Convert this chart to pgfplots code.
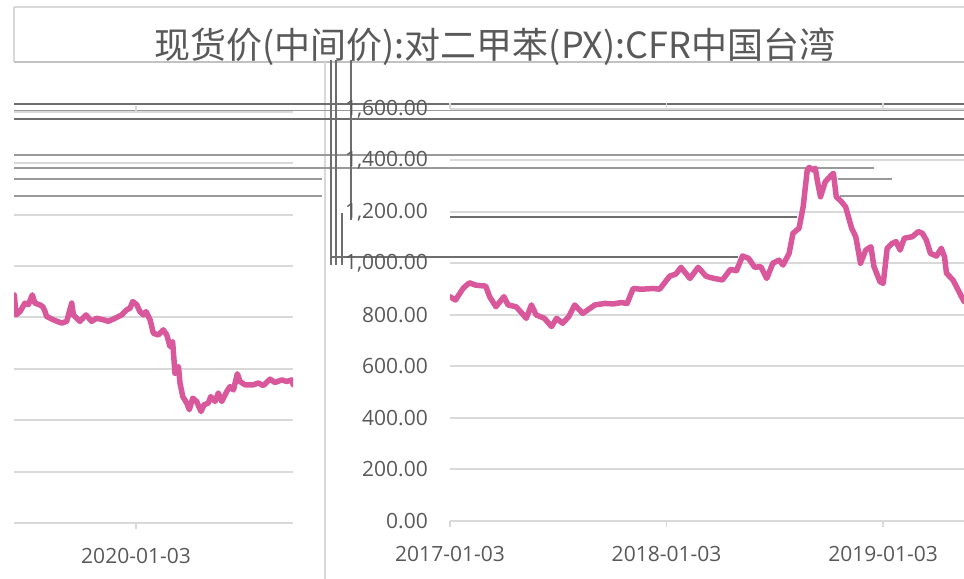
\documentclass[border=0pt]{standalone}
\usepackage{pgfplots}
\pgfplotsset{compat=1.18}
\usepackage{fontspec}
\setmainfont{Open Sans}
\newfontfamily\cjk{Noto Sans CJK SC}
\definecolor{gridgray}{HTML}{D9D9D9}
\definecolor{txt}{HTML}{595959}
\definecolor{pxpink}{HTML}{D9579B}
\definecolor{gdark}{HTML}{6E6E6E}
\definecolor{gmid}{HTML}{9A9A9A}

\pgfplotstableread{
t v
0.000 871
0.025 858
0.062 905
0.090 925
0.118 916
0.165 912
0.183 871
0.212 832
0.249 871
0.268 839
0.305 832
0.333 806
0.352 787
0.376 839
0.398 800
0.436 787
0.469 755
0.492 787
0.520 768
0.548 793
0.576 839
0.613 806
0.669 839
0.716 845
0.753 843
0.790 848
0.818 845
0.846 903
0.884 900
0.940 903
0.968 900
1.015 951
1.043 959
1.067 985
1.108 942
1.146 985
1.183 950
1.220 942
1.258 936
1.295 977
1.323 972
1.351 1029
1.379 1020
1.407 985
1.435 988
1.463 942
1.491 1001
1.519 1013
1.538 994
1.566 1039
1.584 1117
1.612 1137
1.631 1220
1.650 1363
1.659 1373
1.678 1363
1.687 1370
1.696 1324
1.711 1259
1.733 1317
1.761 1343
1.771 1350
1.784 1259
1.808 1240
1.827 1220
1.855 1137
1.874 1104
1.896 1001
1.920 1052
1.944 1065
1.958 988
1.986 929
2.001 923
2.019 1059
2.042 1078
2.060 1085
2.079 1052
2.098 1098
2.135 1104
2.163 1124
2.182 1117
2.200 1091
2.219 1039
2.247 1029
2.269 1059
2.284 1026
2.293 962
2.323 936
2.347 897
2.374 852
}\rightdata

\pgfplotstableread{
t v
2.438 888
2.446 810
2.464 823
2.487 856
2.503 850
2.521 888
2.533 856
2.553 850
2.569 843
2.580 823
2.587 804
2.618 791
2.657 778
2.680 785
2.703 856
2.711 810
2.741 785
2.769 810
2.795 785
2.818 797
2.849 791
2.872 785
2.903 797
2.934 810
2.957 830
2.972 836
2.985 862
3.003 850
3.018 823
3.034 810
3.046 823
3.065 791
3.080 739
3.103 732
3.126 752
3.142 732
3.157 687
3.169 706
3.180 583
3.196 609
3.203 545
3.216 492
3.234 467
3.246 441
3.262 486
3.280 473
3.300 434
3.314 460
3.334 467
3.345 492
3.365 473
3.380 506
3.396 473
3.419 512
3.434 531
3.450 518
3.468 581
3.480 551
3.503 538
3.542 538
3.565 545
3.588 535
3.619 560
3.642 547
3.673 557
3.696 551
3.719 557
3.726 538
}\leftdata

\begin{document}
\begin{tikzpicture}[x=1bp,y=1bp]
\useasboundingbox (0,0) rectangle (964,579);
\clip (0,0) rectangle (964,579);
\pgfplotsset{
  pxbase/.style={
    scale only axis,
    ymin=0, ymax=1600,
    ytick={0,200,...,1600},
    ymajorgrids,
    grid style={draw=gridgray, line width=2bp},
    axis line style={draw=none},
    tick align=outside,
    major tick length=6bp,
    xtick style={draw=gridgray, line width=1.5bp},
    ytick style={draw=none},
    tick label style={font=\fontsize{21bp}{24bp}\selectfont, text=txt},
    /pgf/number format/assume math mode=true,
    yticklabel style={inner sep=0pt, xshift=-16bp,
      /pgf/number format/fixed, /pgf/number format/fixed zerofill,
      /pgf/number format/precision=2, /pgf/number format/1000 sep={,}},
    xticklabel style={inner sep=0pt, yshift=-19bp},
    clip=true,
  }
}
% border and glitch lines of the screenshot
\draw[gridgray, line width=2] (14,572) -- (964,572);
\draw[gridgray, line width=2] (14,572) -- (14,517);
\draw[gmid!60, line width=1.5] (14,517) -- (964,517);
\draw[gridgray, line width=2] (325,0) -- (325,517);
\draw[gdark, line width=2.5] (14,475) -- (964,475);
\draw[gmid, line width=1] (14,468.5) -- (964,468.5);
\draw[gdark, line width=2] (14,460.2) -- (964,460.2);
\draw[gmid, line width=1.2] (14,424) -- (964,424);
\draw[gmid, line width=1.2] (14,411) -- (874,411);
\draw[gmid, line width=1.2] (14,400) -- (322,400);
\draw[gmid, line width=1.2] (838,400) -- (892,400);
\draw[gmid, line width=1.2] (14,383) -- (322,383);
\draw[gmid, line width=1.2] (840,383) -- (964,383);
\draw[gdark, line width=1.2] (450,362) -- (797,362);
\draw[gdark, line width=1.2] (330,322) -- (738,322);
\draw[gdark, line width=1.5] (331,519) -- (331,314);
\draw[gdark, line width=1.5] (336,519) -- (336,314);
\draw[gdark, line width=1.5] (342,366) -- (342,314);
\draw[gdark, line width=1.5] (351,519) -- (351,359);

\begin{axis}[pxbase, at={(450bp,58bp)}, anchor=south west,
  width=514bp, height=412bp, xmin=0, xmax=2.374,
  xtick={0,1,2}, xticklabels={2017-01-03,2018-01-03,2019-01-03}]
\addplot[pxpink, line width=5.5bp, line join=round, line cap=round] table[x=t,y=v] {\rightdata};
\end{axis}

\begin{axis}[pxbase, at={(14bp,56bp)}, anchor=south west,
  width=279bp, height=411bp, xmin=2.4365, xmax=3.725,
  xtick={3}, xticklabels={2020-01-03}, yticklabels={}]
\addplot[pxpink, line width=5.5bp, line join=round, line cap=round] table[x=t,y=v] {\leftdata};
\end{axis}

\node[text=txt, font=\cjk\fontsize{36bp}{40bp}\selectfont] at (495,532) {现货价(中间价):对二甲苯(PX):CFR中国台湾};
\end{tikzpicture}
\end{document}
